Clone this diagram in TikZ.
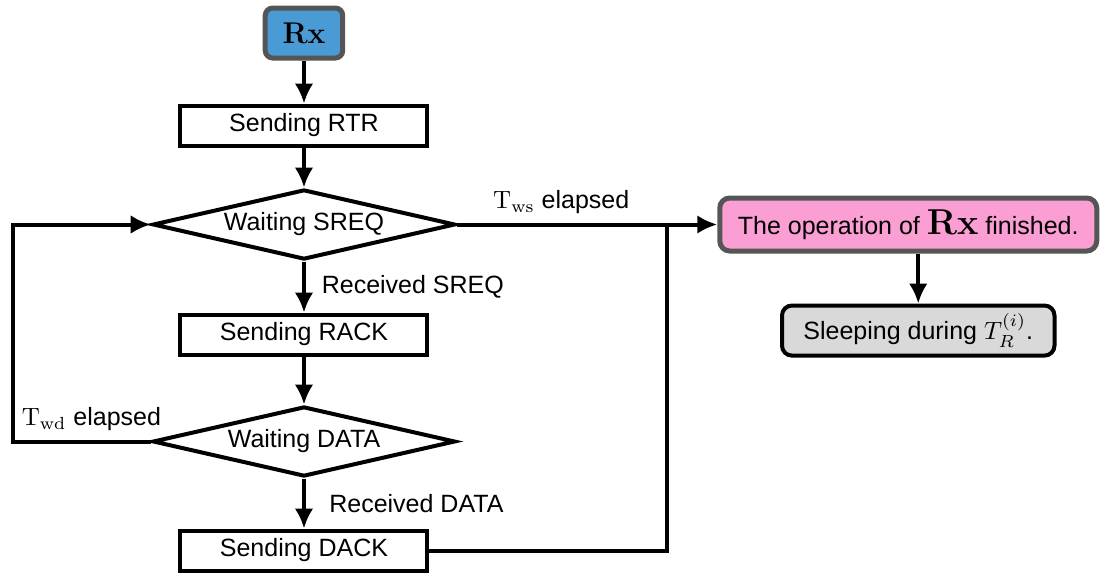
\documentclass[tikz,border=0pt]{standalone}
\usepackage{amsmath}
\usepackage[no-math]{fontspec}
\setmainfont{Liberation Sans}
\usetikzlibrary{positioning,shapes.geometric,arrows.meta}
\definecolor{rxblue}{RGB}{74,154,213}
\definecolor{rxpink}{RGB}{250,158,212}
\definecolor{rxgray}{RGB}{217,217,217}
\definecolor{rxedge}{RGB}{85,85,85}

\begin{document}
\begin{tikzpicture}[node distance=16pt]
    \tikzstyle{start}=[rectangle, rounded corners=3pt, draw=rxedge, fill=rxblue, line width=2pt, minimum width=31pt, minimum height=20pt]
    \tikzstyle{proc}=[rectangle, draw=black, line width=1.6pt, minimum width=98.8pt, minimum height=16pt]
    \tikzstyle{wait}=[diamond, draw=black, line width=1.6pt, aspect=4, inner sep=0pt, minimum width=121pt, minimum height=28pt]
    \tikzstyle{finish}=[rectangle, rounded corners=4pt, draw=rxedge, fill=rxpink, line width=2pt, minimum width=150.8pt, minimum height=21.2pt]
    \tikzstyle{sleepbox}=[rectangle, rounded corners=4pt, draw=black, fill=rxgray, line width=1.6pt, minimum width=109pt, minimum height=18pt]
    \tikzstyle{connect}=[-{Latex[length=8pt,width=7.5pt]}, line width=1.6pt]
    \tikzstyle{plain}=[line width=1.6pt]

      \useasboundingbox (-121.6pt,13.2pt) rectangle (320.8pt,-217.6pt);

      \node[start] (rx) {\large$\mathbf{Rx}$};
      \node[proc] (rtr) [below=17.2pt of rx] {Sending RTR};
      \node[wait] (sreq) [below=16pt of rtr] {Waiting SREQ};
      \node[proc] (rack) [below=20.4pt of sreq] {Sending RACK};
      \node[wait] (data) [below=19.2pt of rack] {Waiting DATA};
      \node[proc] (dack) [below=20pt of data] {Sending DACK};
      \node[finish] (done) [right=104pt of sreq] {The operation of \Large$\mathbf{Rx}$\normalsize{} finished.};
      \node[sleepbox] (sleep) [below=20pt of done, xshift=4pt] {Sleeping during $T_R^{(i)}$.};
      \coordinate[right=84pt of sreq] (join);
      \coordinate[left=55.2pt of data] (back);

      \path
        (rx) edge [connect] (rtr)
        (rtr) edge [connect] (sreq)
        (sreq) edge [connect] node[right, xshift=3pt] {Received SREQ} (rack)
        (rack) edge [connect] (data)
        (data) edge [connect] node[right, xshift=6pt] {Received DATA} (dack);
      \draw[connect] (sreq.east) -- node[above, pos=0.4] {$\mathrm{T}_{\mathrm{ws}}$ elapsed} (done.west);
      \draw[plain] (dack.east) -| (join);
      \draw[connect] (data.west) -- node[above, pos=0.43] {$\mathrm{T}_{\mathrm{wd}}$ elapsed} (back) |- (sreq.west);
      \draw[connect] (done.south -| sleep.north) -- (sleep.north);
    \end{tikzpicture}
\end{document}
